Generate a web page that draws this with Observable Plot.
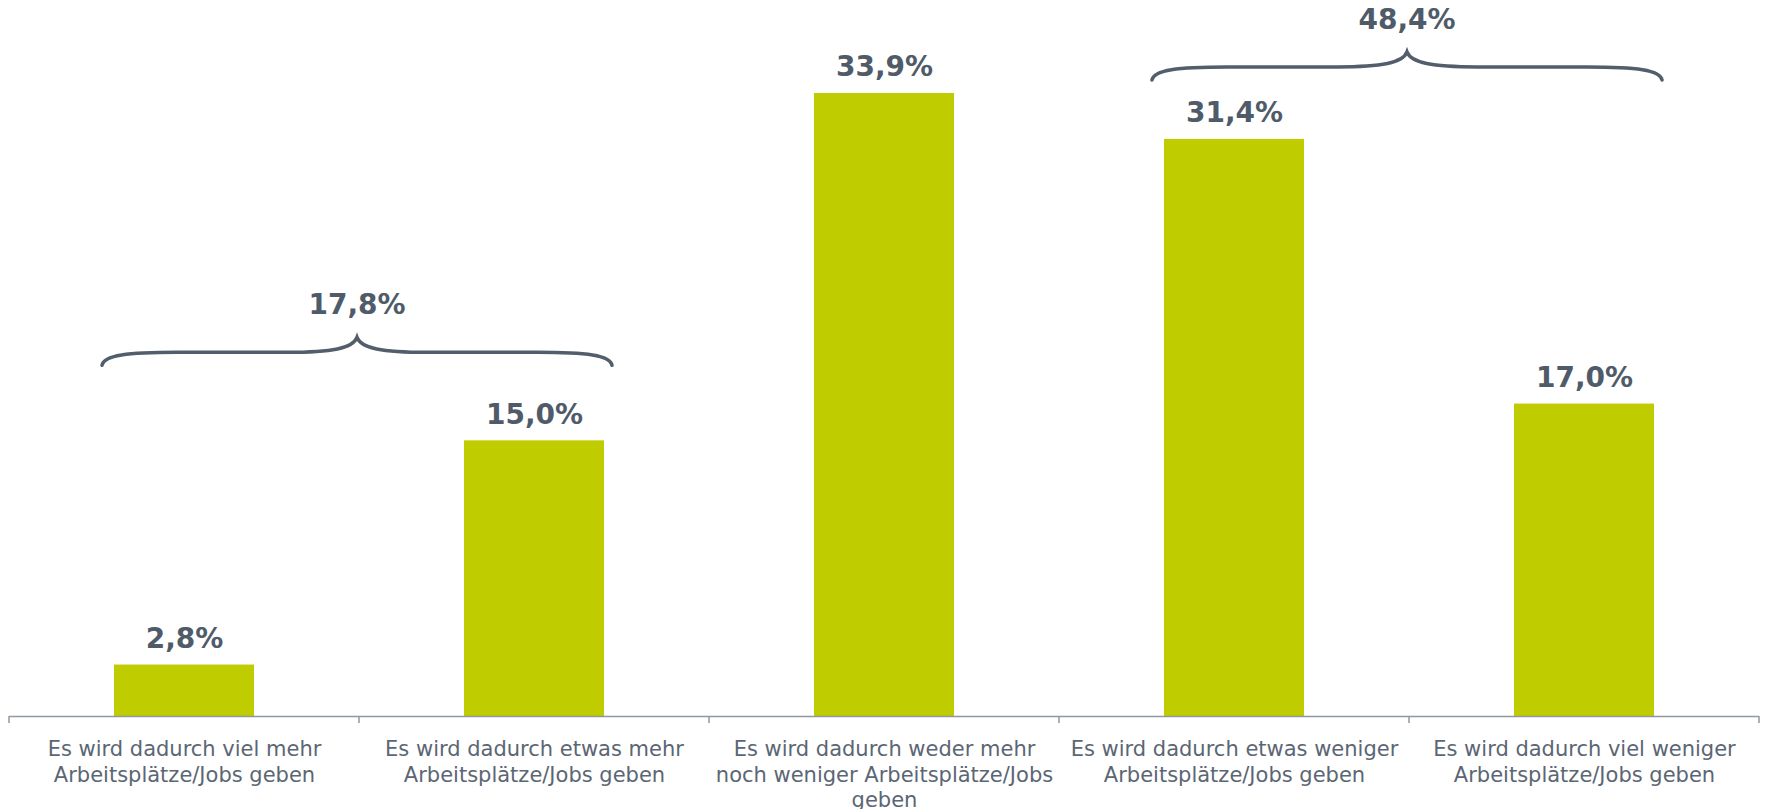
<!DOCTYPE html>
<html>
<head>
<meta charset="utf-8">
<script src="https://cdn.jsdelivr.net/npm/d3@7"></script>
<script src="https://cdn.jsdelivr.net/npm/@observablehq/plot@0.6"></script>
<style>
  html, body { margin: 0; padding: 0; background: #ffffff; }
  svg { display: block; }
</style>
</head>
<body>
<div id="chart"></div>
<script>
// ---- data ----
const categories = [
  "Es wird dadurch viel mehr Arbeitsplätze/Jobs geben",
  "Es wird dadurch etwas mehr Arbeitsplätze/Jobs geben",
  "Es wird dadurch weder mehr noch weniger Arbeitsplätze/Jobs geben",
  "Es wird dadurch etwas weniger Arbeitsplätze/Jobs geben",
  "Es wird dadurch viel weniger Arbeitsplätze/Jobs geben"
];
const tickLabels = [
  "Es wird dadurch viel mehr\nArbeitsplätze/Jobs geben",
  "Es wird dadurch etwas mehr\nArbeitsplätze/Jobs geben",
  "Es wird dadurch weder mehr\nnoch weniger Arbeitsplätze/Jobs\ngeben",
  "Es wird dadurch etwas weniger\nArbeitsplätze/Jobs geben",
  "Es wird dadurch viel weniger\nArbeitsplätze/Jobs geben"
];
const values = [2.8, 15.0, 33.9, 31.4, 17.0];
const groupFirst = [0, 3];
const groupLast = [1, 4];
const groupTotals = [17.8, 48.4];

const fmt = v => v.toFixed(1).replace(".", ",") + "%";
const data = categories.map((c, i) => ({category: c, value: values[i]}));

const BAR = "#bfcd00";
const LABEL = "#4f5b69";
const AXISTEXT = "#5b6674";
const FONT = "'DejaVu Sans', Verdana, sans-serif";

const svg = Plot.plot({
  width: 1765,
  height: 809,
  marginLeft: 9,
  marginRight: 6,
  marginTop: 0,
  marginBottom: 93,
  style: {background: "#ffffff", fontFamily: FONT, overflow: "visible"},
  x: {domain: categories, padding: 0, label: null},
  y: {domain: [0, 38.96], axis: null},
  marks: [
    Plot.barY(data, {x: "category", y: "value", fill: BAR, insetLeft: 105, insetRight: 105}),
    Plot.text(data, {
      x: "category", y: "value", text: d => fmt(d.value),
      dy: -17, lineAnchor: "bottom", fill: LABEL,
      fontSize: 28, fontWeight: "bold", fontFamily: FONT
    }),
    Plot.ruleY([0], {stroke: "#8f99a3", strokeWidth: 1.5}),
    Plot.axisX({
      tickSize: 0, tickPadding: 22, label: null,
      tickFormat: c => tickLabels[categories.indexOf(c)],
      fontSize: 21, fill: AXISTEXT, fontFamily: FONT, lineHeight: 1.2
    })
  ]
});

// ---- annotations drawn with the chart's own scales ----
const xs = svg.scale("x");
const ys = svg.scale("y");
const bw = xs.bandwidth;
const sel = d3.select(svg);
const y0 = ys.apply(0);

// category boundary ticks
const bounds = categories.map(c => xs.apply(c)).concat([xs.apply(categories[categories.length - 1]) + bw]);
sel.append("g").selectAll("line").data(bounds).join("line")
  .attr("x1", d => d).attr("x2", d => d)
  .attr("y1", y0).attr("y2", y0 + 7)
  .attr("stroke", "#8f99a3").attr("stroke-width", 1.5);

// braces
const braceLift = [88, 72]; // px above the tallest bar of the group
const g = sel.append("g");
groupFirst.forEach((i0, k) => {
  const i1 = groupLast[k];
  const c0 = xs.apply(categories[i0]) + bw / 2;
  const c1 = xs.apply(categories[i1]) + bw / 2;
  const x0 = c0 - 82, x1 = c1 + 78, xc = (x0 + x1) / 2;
  const maxV = d3.max(values.slice(i0, i1 + 1));
  const yL = ys.apply(maxV) - braceLift[k];
  const d = `M${x0},${yL + 13} C${x0 + 2},${yL + 3} ${x0 + 25},${yL} ${x0 + 75},${yL}
    L${xc - 70},${yL} C${xc - 25},${yL} ${xc - 4},${yL - 4} ${xc},${yL - 15}
    C${xc + 4},${yL - 4} ${xc + 25},${yL} ${xc + 70},${yL}
    L${x1 - 75},${yL} C${x1 - 25},${yL} ${x1 - 2},${yL + 3} ${x1},${yL + 13}`;
  g.append("path").attr("d", d).attr("fill", "none")
    .attr("stroke", "#525e6b").attr("stroke-width", 3.5).attr("stroke-linecap", "round");
  g.append("text").attr("x", xc).attr("y", yL - 38)
    .attr("text-anchor", "middle").attr("fill", LABEL)
    .attr("font-family", FONT).attr("font-size", 28).attr("font-weight", "bold")
    .text(fmt(groupTotals[k]));
});

document.getElementById("chart").appendChild(svg);
</script>
</body>
</html>
